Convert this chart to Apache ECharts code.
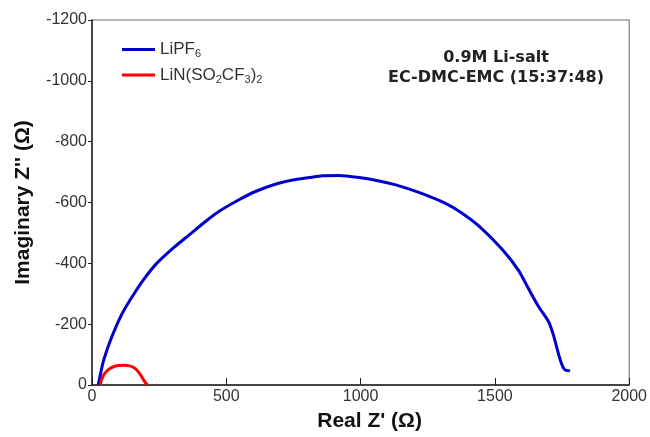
<!DOCTYPE html>
<html>
<head>
    <meta charset="UTF-8">
    <style>
        html, body { margin: 0; padding: 0; background: #fff; }
        #chart { width: 650px; height: 437px; }
    </style>
    <script src="https://cdn.jsdelivr.net/npm/echarts@6/dist/echarts.min.js"></script>
</head>
<body>
    <div id="chart"></div>
    <script>
        // Nyquist data: Real Z' and Imaginary Z'' (Ohm)
        var lipf6Re = [23, 30, 42, 67, 92, 116, 153, 190, 240, 302, 364, 420, 475, 549, 611, 685, 747, 809, 858, 920, 995, 1069, 1131, 1217, 1316, 1378, 1440, 1526, 1588, 1625, 1663, 1700, 1718, 1731, 1743, 1755, 1765, 1780];
        var lipf6Im = [0, -30, -77, -143, -197, -241, -295, -344, -399, -450, -495, -536, -572, -610, -637, -661, -674, -682, -688, -689, -682, -671, -658, -633, -597, -565, -523, -447, -377, -317, -257, -208, -164, -121, -83, -56, -48, -47];

        var litfsiRe = [30, 36, 45, 60, 80, 100, 120, 140, 158, 172, 183, 193, 202, 208];
        var litfsiIm = [0, -18, -35, -50, -60, -64, -65, -63, -56, -44, -30, -15, -4, 0];

        var xTicks = { min: 0, max: 2000, step: 500 };
        var yTicks = { min: -1200, max: 0, step: 200 };

        function pairs(xs, ys) {
            return xs.map(function (x, i) { return [x, ys[i]]; });
        }

        var legendLabels = {
            'LiPF6': '{n|LiPF}{s|6}',
            'LiN(SO2CF3)2': '{n|LiN(SO}{s|2}{n|CF}{s|3}{n|)}{s|2}'
        };

        var chart = echarts.init(document.getElementById('chart'));

        var option = {
            animation: false,
            grid: { left: 92, top: 20, right: 19, bottom: 50, show: true, borderColor: '#666', borderWidth: 1 },
            legend: {
                orient: 'vertical',
                left: 117,
                top: 36,
                icon: 'rect',
                itemWidth: 33,
                itemHeight: 3,
                itemGap: 7,
                formatter: function (name) { return legendLabels[name]; },
                textStyle: {
                    rich: {
                        n: { fontFamily: 'Liberation Sans', fontSize: 17, color: '#333', lineHeight: 20, verticalAlign: 'middle' },
                        s: { fontFamily: 'Liberation Sans', fontSize: 11, color: '#333', lineHeight: 11, verticalAlign: 'bottom' }
                    }
                }
            },
            xAxis: {
                type: 'value',
                min: xTicks.min,
                max: xTicks.max,
                interval: xTicks.step,
                name: 'Real Z\' (\u03A9)',
                nameLocation: 'middle',
                nameGap: 26,
                nameTextStyle: { fontFamily: 'Liberation Sans', fontSize: 21, fontWeight: 'bold', color: '#111', padding: [0, 0, 0, 18] },
                axisLine: { onZero: false, lineStyle: { color: '#222', width: 1.5 } },
                axisTick: { inside: true, length: 7, lineStyle: { color: '#222' } },
                axisLabel: { fontFamily: 'Liberation Sans', fontSize: 16, color: '#333', margin: 4, formatter: String },
                splitLine: { show: false }
            },
            yAxis: {
                type: 'value',
                inverse: true,
                min: yTicks.min,
                max: yTicks.max,
                interval: yTicks.step,
                name: 'Imaginary Z\'\' (\u03A9)',
                nameLocation: 'middle',
                nameGap: 58,
                nameTextStyle: { fontFamily: 'Liberation Sans', fontSize: 21, fontWeight: 'bold', color: '#111' },
                axisLine: { onZero: false, lineStyle: { color: '#222', width: 1.5 } },
                axisTick: { inside: false, length: 4, lineStyle: { color: '#222' } },
                axisLabel: { fontFamily: 'Liberation Sans', fontSize: 16, color: '#333', margin: 5, formatter: String },
                splitLine: { show: false }
            },
            graphic: [{
                type: 'text',
                x: 496,
                y: 48,
                style: {
                    text: '0.9M Li-salt\nEC-DMC-EMC (15:37:48)',
                    align: 'center',
                    fontFamily: 'DejaVu Sans',
                    fontWeight: 'bold',
                    fontSize: 16,
                    lineHeight: 20,
                    fill: '#222'
                }
            }],
            series: [
                {
                    name: 'LiPF6',
                    type: 'line',
                    data: pairs(lipf6Re, lipf6Im),
                    showSymbol: false,
                    smooth: 0.2,
                    lineStyle: { color: '#0000cc', width: 3 },
                    itemStyle: { color: '#0000cc' }
                },
                {
                    name: 'LiN(SO2CF3)2',
                    type: 'line',
                    data: pairs(litfsiRe, litfsiIm),
                    showSymbol: false,
                    smooth: 0.3,
                    lineStyle: { color: '#ff0000', width: 3 },
                    itemStyle: { color: '#ff0000' }
                }
            ]
        };

        chart.setOption(option);
    </script>
</body>
</html>
